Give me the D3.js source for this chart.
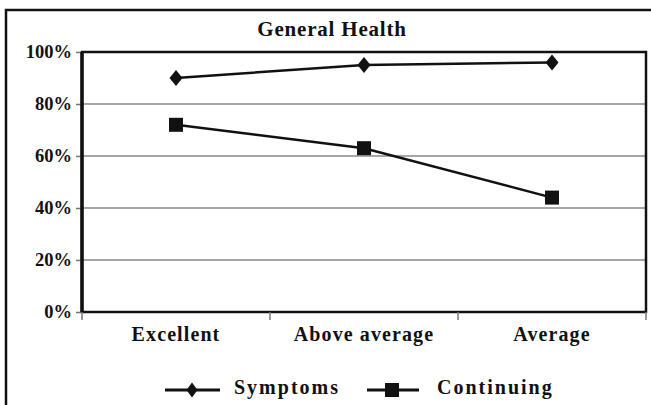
<!DOCTYPE html>
<html>
<head>
<meta charset="utf-8">
<script src="https://cdn.jsdelivr.net/npm/d3@7"></script>
<style>
  body { margin: 0; background: #fff; }
  svg { display: block; }
</style>
</head>
<body>
<div id="chart"></div>
<script>
// categories and series (percent)
const categories = ["Excellent", "Above average", "Average"]
const symptoms = [90, 95, 96]
const continuing = [72, 63, 44]
const yTicks = [0, 20, 40, 60, 80, 100]

const width = 651, height = 405
const margin = ({ top: 52, right: 5, bottom: 93, left: 82 })
const serif = "'Liberation Serif', 'DejaVu Serif', serif"

const svg = d3.select("#chart").append("svg")
    .attr("width", width)
    .attr("height", height)
    .style("font-family", serif)

// outer frame (runs off the right and bottom of the picture)
svg.append("rect")
    .attr("x", 6).attr("y", 10)
    .attr("width", 700).attr("height", 500)
    .attr("fill", "none")
    .attr("stroke", "#111")
    .attr("stroke-width", 2.5)

svg.append("text")
    .attr("x", 332).attr("y", 36)
    .attr("text-anchor", "middle")
    .style("font-family", serif)
    .style("font-weight", "bold")
    .style("font-size", "21px")
    .style("letter-spacing", "0.8px")
    .attr("fill", "#111")
    .text("General Health")

const x = d3.scaleBand()
    .domain(categories)
    .range([margin.left, width - margin.right])
    .padding(0)

const y = d3.scaleLinear()
    .domain([0, 100])
    .range([height - margin.bottom, margin.top])

// gridlines
svg.append("g")
    .selectAll("line")
    .data(yTicks.slice(1))
    .join("line")
    .attr("x1", margin.left).attr("x2", x.range()[1])
    .attr("y1", d => y(d)).attr("y2", d => y(d))
    .attr("stroke", "#888")
    .attr("stroke-width", 1.5)

// y axis
svg.append("g")
    .attr("transform", `translate(${margin.left},0)`)
    .call(d3.axisLeft(y).tickValues(yTicks).tickFormat(d => d + "%").tickSize(6).tickPadding(4))
    .call(g => g.select(".domain").remove())
    .call(g => g.attr("font-family", null))
    .call(g => g.selectAll(".tick line").attr("stroke", "#777").attr("stroke-width", 1.5))
    .call(g => g.selectAll(".tick text")
        .style("font-family", serif)
        .style("font-weight", "bold")
        .style("font-size", "18.5px")
        .attr("fill", "#111")
        .attr("dy", "0.3em"))

// plot border
svg.append("rect")
    .attr("x", margin.left).attr("y", margin.top)
    .attr("width", x.range()[1] - margin.left)
    .attr("height", y(0) - margin.top)
    .attr("fill", "none")
    .attr("stroke", "#111")
    .attr("stroke-width", 2.5)

svg.append("line")
    .attr("x1", margin.left).attr("x2", margin.left)
    .attr("y1", margin.top).attr("y2", y(0))
    .attr("stroke", "#111").attr("stroke-width", 3.5)

// x axis: ticks at category boundaries
const bounds = categories.map(c => x(c)).concat([x.range()[1]])
svg.append("g")
    .selectAll("line")
    .data(bounds)
    .join("line")
    .attr("x1", d => d).attr("x2", d => d)
    .attr("y1", y(0)).attr("y2", y(0) + 8)
    .attr("stroke", "#777").attr("stroke-width", 1.5)

svg.append("g")
    .selectAll("text")
    .data(categories)
    .join("text")
    .attr("x", d => x(d) + x.bandwidth() / 2)
    .attr("y", y(0) + 29)
    .attr("text-anchor", "middle")
    .style("font-family", serif)
    .style("font-weight", "bold")
    .style("font-size", "20px")
    .style("letter-spacing", "1.1px")
    .attr("fill", "#111")
    .text(d => d)

const cx = d => x(d) + x.bandwidth() / 2
const line = d3.line()
    .x((d, i) => cx(categories[i]))
    .y(d => y(d))

const diamond = (w, h) => `M0,${-h / 2}L${w / 2},0L0,${h / 2}L${-w / 2},0Z`

// Symptoms
svg.append("path")
    .datum(symptoms)
    .attr("d", line)
    .attr("fill", "none")
    .attr("stroke", "#111")
    .attr("stroke-width", 2.5)
svg.append("g")
    .selectAll("path")
    .data(symptoms)
    .join("path")
    .attr("transform", (d, i) => `translate(${cx(categories[i])},${y(d)})`)
    .attr("d", diamond(13, 16))
    .attr("fill", "#111")

// Continuing
svg.append("path")
    .datum(continuing)
    .attr("d", line)
    .attr("fill", "none")
    .attr("stroke", "#111")
    .attr("stroke-width", 2.5)
svg.append("g")
    .selectAll("rect")
    .data(continuing)
    .join("rect")
    .attr("x", (d, i) => cx(categories[i]) - 7)
    .attr("y", d => y(d) - 7)
    .attr("width", 14).attr("height", 14)
    .attr("fill", "#111")

// legend
const legendY = 390
const legend = svg.append("g")
legend.append("line")
    .attr("x1", 165).attr("x2", 220)
    .attr("y1", legendY).attr("y2", legendY)
    .attr("stroke", "#111").attr("stroke-width", 3)
legend.append("path")
    .attr("transform", `translate(192,${legendY})`)
    .attr("d", diamond(11, 15))
    .attr("fill", "#111")
legend.append("text")
    .attr("x", 234).attr("y", legendY + 4)
    .style("font-family", serif)
    .style("font-weight", "bold")
    .style("font-size", "20px")
    .style("letter-spacing", "2px")
    .attr("fill", "#111")
    .text("Symptoms")

legend.append("line")
    .attr("x1", 367).attr("x2", 419)
    .attr("y1", legendY).attr("y2", legendY)
    .attr("stroke", "#111").attr("stroke-width", 3)
legend.append("rect")
    .attr("x", 385).attr("y", legendY - 7)
    .attr("width", 14).attr("height", 14)
    .attr("fill", "#111")
legend.append("text")
    .attr("x", 437).attr("y", legendY + 4)
    .style("font-family", serif)
    .style("font-weight", "bold")
    .style("font-size", "20px")
    .style("letter-spacing", "2px")
    .attr("fill", "#111")
    .text("Continuing")
</script>
</body>
</html>
